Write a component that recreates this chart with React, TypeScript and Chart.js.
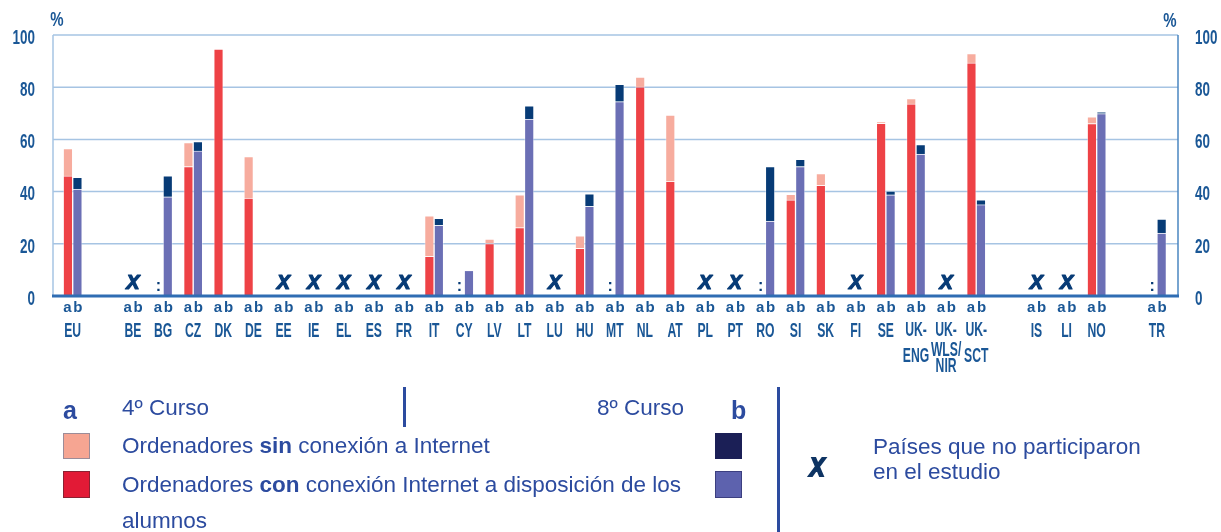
import React, { useEffect, useRef } from "react";
import { Chart, registerables } from "chart.js";

Chart.register(...registerables);

// ---------- DATA ----------
const countries: string[] = [
  "EU", "", "BE", "BG", "CZ", "DK", "DE", "EE", "IE", "EL", "ES", "FR", "IT", "CY", "LV", "LT", "LU",
  "HU", "MT", "NL", "AT", "PL", "PT", "RO", "SI", "SK", "FI", "SE", "UK-ENG", "UK-WLS/NIR", "UK-SCT",
  "", "IS", "LI", "NO", "", "TR",
];

const countryLines: Record<string, string[]> = {
  "UK-ENG": ["UK-", "ENG"],
  "UK-WLS/NIR": ["UK-", "WLS/", "NIR"],
  "UK-SCT": ["UK-", "SCT"],
};

// a = 4º Curso ; b = 8º Curso
const aConnected: (number | null)[] = [
  46, null, null, null, 49.6, 94.6, 37.5, null, null, null, null, null, 15.2, null, 20.1, 26.2, null,
  18.3, null, 80.1, 43.9, null, null, null, 36.8, 42.4, null, 66.2, 73.6, null, 89.3,
  null, null, null, 66.1, null, null,
];
const aNotConnected: (number | null)[] = [
  10.5, null, null, null, 9.2, 0, 15.9, null, null, null, null, null, 15.5, null, 1.7, 12.6, null,
  4.8, null, 3.8, 25.4, null, null, null, 2.2, 4.5, null, 0.5, 2.0, null, 3.6,
  null, null, null, 2.5, null, null,
];
const bConnected: (number | null)[] = [
  41, null, null, 38, 55.6, null, null, null, null, null, null, null, 27.1, 9.8, null, 67.8, null,
  34.4, 74.5, null, null, null, null, 28.7, 49.6, null, null, 38.8, 54.4, null, 35.0,
  null, null, null, 69.9, null, 24.1,
];
const bNotConnected: (number | null)[] = [
  4.5, null, null, 8, 3.6, null, null, null, null, null, null, null, 2.7, 0, null, 5.1, null,
  4.7, 6.6, null, null, null, null, 20.9, 2.8, null, null, 1.4, 3.6, null, 1.8,
  null, null, null, 0.6, null, 5.4,
];

const notParticipating: string[] = [
  "BE", "EE", "IE", "EL", "ES", "FR", "LU", "PL", "PT", "FI", "UK-WLS/NIR", "IS", "LI",
];
const noDataA: string[] = ["BG", "CY", "MT", "RO", "TR"];

const yTicks: number[] = [0, 20, 40, 60, 80, 100];

// ---------- STYLE ----------
const RED = "#EE4246";
const PINK = "#F7AC9E";
const PURPLE = "#6B6FB5";
const NAVY = "#073B76";
const AXIS_TEXT = "#1A5796";
const LEGEND_TEXT = "#2C4B9F";
const BAR_W = 9.5;
const FONT = "'Liberation Sans', Arial, sans-serif";

const toPts = (arr: (number | null)[]) => arr.map((v, i) => ({ x: i, y: v }));

function condText(ctx: CanvasRenderingContext2D, text: string, x: number, y: number, sx: number, align: CanvasTextAlign) {
  ctx.save();
  ctx.translate(x, y);
  ctx.scale(sx, 1);
  ctx.textAlign = align;
  ctx.fillText(text, 0, 0);
  ctx.restore();
}

function drawX(ctx: CanvasRenderingContext2D, cx: number, cy: number, s: number) {
  ctx.save();
  ctx.font = `bold italic ${s}px ${FONT}`;
  ctx.textAlign = "center";
  ctx.textBaseline = "middle";
  ctx.lineWidth = s * 0.06;
  ctx.lineJoin = "round";
  ctx.strokeStyle = NAVY;
  ctx.fillText("X", cx, cy);
  ctx.strokeText("X", cx, cy);
  ctx.restore();
}

const decorPlugin = {
  id: "decor",
  beforeDatasetsDraw(chart: any) {
    const { ctx, chartArea: ca, scales } = chart;
    const y = scales.y;
    ctx.save();
    ctx.strokeStyle = "#A6C4E3";
    ctx.lineWidth = 1.5;
    for (const t of yTicks) {
      if (t === 0) continue;
      const py = y.getPixelForValue(t);
      ctx.beginPath();
      ctx.moveTo(ca.left, py);
      ctx.lineTo(ca.right, py);
      ctx.stroke();
    }
    ctx.beginPath();
    ctx.moveTo(ca.left, y.getPixelForValue(100));
    ctx.lineTo(ca.left, ca.bottom);
    ctx.stroke();
    ctx.strokeStyle = "#4A86C0";
    ctx.beginPath();
    ctx.moveTo(ca.right, y.getPixelForValue(100));
    ctx.lineTo(ca.right, ca.bottom);
    ctx.stroke();
    ctx.restore();
  },
  afterDatasetsDraw(chart: any) {
    const { ctx, chartArea: ca, scales } = chart;
    const x = scales.x;
    const y = scales.y;
    const y0 = y.getPixelForValue(0);
    ctx.save();
    ctx.strokeStyle = "#2F6DB3";
    ctx.lineWidth = 3;
    ctx.beginPath();
    ctx.moveTo(ca.left - 1, y0);
    ctx.lineTo(ca.right + 1, y0);
    ctx.stroke();

    ctx.fillStyle = AXIS_TEXT;
    ctx.font = `bold 21px ${FONT}`;
    ctx.textBaseline = "middle";
    for (const t of yTicks) {
      const py = y.getPixelForValue(t) + 3;
      condText(ctx, String(t), ca.left - 18, py, 0.64, "right");
      condText(ctx, String(t), ca.right + 17, py, 0.64, "left");
    }
    ctx.font = `bold 20px ${FONT}`;
    condText(ctx, "%", ca.left + 4, 20, 0.75, "center");
    condText(ctx, "%", ca.right - 8, 21, 0.75, "center");

    ctx.textBaseline = "alphabetic";
    countries.forEach((c, i) => {
      if (!c) return;
      const cx = x.getPixelForValue(i);
      ctx.fillStyle = AXIS_TEXT;
      ctx.font = `bold 15px ${FONT}`;
      ctx.textAlign = "center";
      ctx.fillText("a", cx - BAR_W / 2 - 0.5, 312);
      ctx.fillText("b", cx + BAR_W / 2 + 0.5, 312);

      ctx.font = `bold 21px ${FONT}`;
      const lines = countryLines[c];
      const sx = 0.58;
      if (!lines) {
        condText(ctx, c, cx, 337, sx, "center");
      } else if (lines.length === 2) {
        condText(ctx, lines[0], cx, 336, sx, "center");
        condText(ctx, lines[1], cx, 362, sx, "center");
      } else {
        condText(ctx, lines[0], cx, 336, sx, "center");
        condText(ctx, lines[1], cx, 356, sx, "center");
        condText(ctx, lines[2], cx, 372, sx, "center");
      }

      ctx.fillStyle = NAVY;
      if (notParticipating.includes(c)) {
        drawX(ctx, cx, y0 - 13, 20);
      }
      if (noDataA.includes(c)) {
        ctx.font = `bold 16px ${FONT}`;
        ctx.textAlign = "center";
        ctx.fillText(":", cx - BAR_W / 2, y0 - 5);
      }
    });
    ctx.restore();
  },
};

export default function App() {
  const ref = useRef<HTMLCanvasElement | null>(null);

  useEffect(() => {
    if (!ref.current) return;
    const barBorder = "rgba(255,255,255,0.35)";
    const chart = new Chart(ref.current, {
      type: "bar",
      data: {
        datasets: [
          { label: "a con", stack: "a", data: toPts(aConnected) as any, backgroundColor: RED, borderColor: barBorder, borderWidth: 1 },
          { label: "a sin", stack: "a", data: toPts(aNotConnected) as any, backgroundColor: PINK, borderColor: barBorder, borderWidth: 1 },
          { label: "b con", stack: "b", data: toPts(bConnected) as any, backgroundColor: PURPLE, borderColor: barBorder, borderWidth: 1 },
          { label: "b sin", stack: "b", data: toPts(bNotConnected) as any, backgroundColor: NAVY, borderColor: barBorder, borderWidth: 1 },
        ],
      },
      options: {
        responsive: false,
        maintainAspectRatio: false,
        animation: false,
        devicePixelRatio: 1,
        barThickness: BAR_W,
        layout: { padding: { top: 35, left: 0, right: 0, bottom: 0 } },
        plugins: { legend: { display: false }, tooltip: { enabled: false } },
        scales: {
          x: {
            type: "linear",
            stacked: true,
            offset: false,
            min: -0.654,
            max: 36.7,
            ticks: { display: false, stepSize: 1, includeBounds: false },
            grid: { display: false, offset: false },
            border: { display: false },
            afterFit: (s: any) => { s.height = 532 - 296; },
          },
          y: {
            position: "left",
            stacked: true,
            min: 0,
            max: 100,
            ticks: { display: false },
            grid: { display: false },
            border: { display: false },
            afterFit: (s: any) => { s.width = 53; },
          },
          y2: {
            position: "right",
            min: 0,
            max: 100,
            ticks: { display: false },
            grid: { display: false },
            border: { display: false },
            afterFit: (s: any) => { s.width = 43; },
          },
        },
      } as any,
      plugins: [decorPlugin],
    });
    return () => chart.destroy();
  }, []);

  const txt = (left: number, cy: number, size: number, content: React.ReactNode, bold = false) => (
    <div
      style={{
        position: "absolute",
        left,
        top: cy - 15,
        lineHeight: "30px",
        fontSize: size,
        fontWeight: bold ? 700 : 400,
        color: LEGEND_TEXT,
        whiteSpace: "nowrap",
        fontFamily: FONT,
      }}
    >
      {content}
    </div>
  );
  const box = (left: number, top: number, w: number, h: number, bg: string, border: string) => (
    <div style={{ position: "absolute", left, top, width: w, height: h, background: bg, border: `1px solid ${border}`, boxSizing: "border-box" }} />
  );

  return (
    <div style={{ position: "fixed", left: 0, top: 0, width: 1221, height: 532, background: "#fff", overflow: "hidden" }}>
      <canvas ref={ref} width={1221} height={532} style={{ position: "absolute", left: 0, top: 0, width: 1221, height: 532 }} />
      {txt(63, 410, 25, "a", true)}
      {txt(122, 408, 22.5, "4º Curso")}
      <div style={{ position: "absolute", left: 403, top: 387, width: 2.5, height: 40, background: LEGEND_TEXT }} />
      {txt(597, 408, 22.5, "8º Curso")}
      {txt(731, 410, 25, "b", true)}
      {box(63, 433, 27, 26, "#F6A592", "#9C8C98")}
      {txt(122, 446, 22.5, <>Ordenadores <b>sin</b> conexión a Internet</>)}
      {box(63, 471, 27, 27, "#E21A36", "#8A2233")}
      {txt(122, 485, 22.5, <>Ordenadores <b>con</b> conexión Internet a disposición de los</>)}
      {txt(122, 521, 22.5, "alumnos")}
      {box(715, 433, 27, 26, "#1B1F56", "#1B1F56")}
      {box(715, 471, 27, 27, "#5D62AE", "#3C3F80")}
      <div style={{ position: "absolute", left: 777, top: 387, width: 3, height: 145, background: LEGEND_TEXT }} />
      <div
        style={{
          position: "absolute",
          left: 805,
          top: 452,
          width: 24,
          lineHeight: "30px",
          fontSize: 26,
          fontWeight: 700,
          fontStyle: "italic",
          color: "#0E3463",
          WebkitTextStroke: "2px #0E3463",
          fontFamily: FONT,
          textAlign: "center",
          transform: "scaleX(0.85)",
        }}
      >
        X
      </div>
      {txt(873, 447, 22.5, "Países que no participaron")}
      {txt(873, 472, 22.5, "en el estudio")}
    </div>
  );
}
